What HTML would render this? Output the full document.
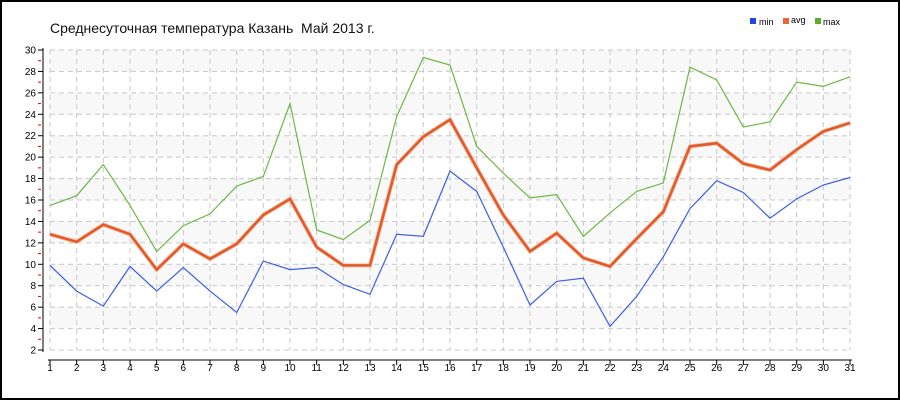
<!DOCTYPE html>
<html><head><meta charset="utf-8"><style>
html,body{margin:0;padding:0;background:#fff}
svg{display:block;font-family:"Liberation Sans","DejaVu Sans",sans-serif}
</style></head><body>
<svg id="c" width="900" height="400" xmlns="http://www.w3.org/2000/svg">
<rect x="1" y="1" width="898" height="398" fill="#fff" stroke="#000" stroke-width="2"/>
<text x="50" y="33" font-size="14" fill="#111">Среднесуточная температура Казань&#160; Май 2013 г.</text>
<rect x="750" y="18" width="6" height="6" fill="#2146e0"/><text x="759" y="25" font-size="9">min</text>
<rect x="783" y="18" width="6" height="6" fill="#e8643a"/><text x="791" y="23" font-size="9">avg</text>
<rect x="815" y="18" width="6" height="6" fill="#5aae2a"/><text x="823" y="25" font-size="9">max</text>
<g id="g"></g>
</svg>
<script>
var g=document.getElementById('g'),h='';
function X(i){return 50+(i-1)*26.667}
function Y(v){return 50+(30-v)*300/28}
for(var v=30;v>2;v-=4){h+='<rect x="50" y="'+Y(v)+'" width="800" height="'+(Y(v-2)-Y(v))+'" fill="#f8f8f8"/>';}
for(var v=2;v<=30;v+=2){h+='<line x1="50" x2="850" y1="'+Y(v)+'" y2="'+Y(v)+'" stroke="#c8c8c8" stroke-dasharray="5,4"/>';
h+='<line x1="38" x2="43" y1="'+Y(v)+'" y2="'+Y(v)+'" stroke="#000"/>';
h+='<text x="36" y="'+(Y(v)+3.5)+'" font-size="10" text-anchor="end">'+v+'</text>';
if(v<30)h+='<line x1="38" x2="41" y1="'+Y(v+1)+'" y2="'+Y(v+1)+'" stroke="#d00"/>';}
for(var i=1;i<=31;i++){h+='<line x1="'+X(i)+'" x2="'+X(i)+'" y1="50" y2="350" stroke="#c8c8c8" stroke-dasharray="5,4"/>';
h+='<line x1="'+X(i)+'" x2="'+X(i)+'" y1="360" y2="365" stroke="#000"/>';
h+='<text x="'+X(i)+'" y="371" font-size="10" text-anchor="middle">'+i+'</text>';}
h+='<line x1="43" x2="43" y1="48" y2="352" stroke="#000"/><line x1="48" x2="852" y1="360" y2="360" stroke="#000"/>';
var mn=[9.9,7.5,6.1,9.8,7.5,9.7,7.5,5.5,10.3,9.5,9.7,8.1,7.2,12.8,12.6,18.7,16.8,11.6,6.2,8.4,8.7,4.2,7.0,10.7,15.2,17.8,16.7,14.3,16.1,17.4,18.1];
var av=[12.8,12.1,13.7,12.8,9.5,11.9,10.5,11.9,14.6,16.1,11.6,9.9,9.9,19.3,21.9,23.5,19.0,14.6,11.2,12.9,10.6,9.8,12.4,14.9,21.0,21.3,19.4,18.8,20.7,22.4,23.2];
var mx=[15.5,16.4,19.3,15.5,11.2,13.6,14.7,17.3,18.2,25.0,13.2,12.3,14.1,23.8,29.3,28.6,21.0,18.5,16.2,16.5,12.6,14.8,16.8,17.6,28.4,27.2,22.8,23.3,27.0,26.6,27.5];
function P(d){return d.map(function(v,i){return X(i+1).toFixed(1)+','+Y(v).toFixed(1)}).join(' ')}
h+='<polyline points="'+P(mx)+'" fill="none" stroke="#6ab845" stroke-width="1.2"/>';
h+='<polyline points="'+P(mn)+'" fill="none" stroke="#3a5ee8" stroke-width="1.2"/>';
h+='<polyline points="'+P(av)+'" fill="none" stroke="#f4b89c" stroke-width="4"/>';
h+='<polyline points="'+P(av)+'" fill="none" stroke="#e35a28" stroke-width="2.5"/>';
g.innerHTML=h;
</script>
</body></html>
